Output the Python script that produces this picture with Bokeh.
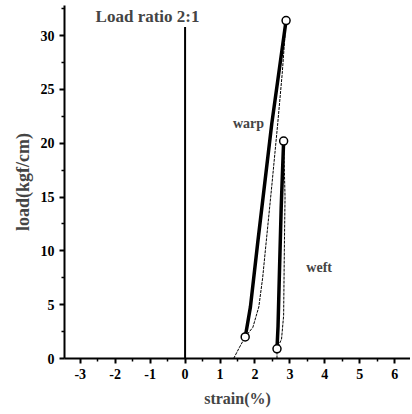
from bokeh.plotting import figure
from bokeh.models import Range1d, FixedTicker, Label
from bokeh.embed import file_html
from bokeh.resources import INLINE

# warp loading (thin) and unloading (thick) curves
warp_thin_x = [1.39, 1.55, 1.72, 1.94, 2.11, 2.22, 2.32, 2.48, 2.65, 2.78, 2.89]
warp_thin_y = [0.0, 1.0, 2.0, 2.9, 4.8, 7.5, 10.8, 16.0, 21.8, 26.5, 31.4]
warp_thick_x = [1.72, 1.77, 1.87, 2.08, 2.48, 2.89]
warp_thick_y = [2.0, 2.9, 4.8, 10.8, 21.8, 31.4]
# weft curves
weft_thin_x = [2.63, 2.63, 2.76, 2.82, 2.84, 2.86, 2.82]
weft_thin_y = [0.0, 0.9, 1.8, 4.0, 10.0, 15.0, 20.2]
weft_thick_x = [2.63, 2.66, 2.7, 2.75, 2.82]
weft_thick_y = [0.9, 3.0, 8.0, 14.0, 20.2]
# markers
mark_x = [1.72, 2.89, 2.63, 2.82]
mark_y = [2.0, 31.4, 0.9, 20.2]
# vertical reference line at zero strain
zero_x = [0.0, 0.0]
zero_y = [0.0, 30.8]

x_ticks = [-3, -2, -1, 0, 1, 2, 3, 4, 5, 6]
x_tick_labels = ["-3", "-2", "-1", "0", "1", "2", "3", "4", "5", "6"]
y_ticks = [0, 5, 10, 15, 20, 25, 30]

font = "Liberation Serif"

p = figure(width=410, height=413, output_backend="svg", toolbar_location=None,
           x_range=Range1d(-3.45, 6.45), y_range=Range1d(0, 32.8),
           min_border_left=64, min_border_right=0, min_border_top=5, min_border_bottom=55)
p.outline_line_color = None
p.grid.visible = False
p.background_fill_color = "white"

p.line(zero_x, zero_y, line_color="black", line_width=2)
p.line(warp_thin_x, warp_thin_y, line_color="black", line_width=1, line_dash="3 1")
p.line(warp_thick_x, warp_thick_y, line_color="black", line_width=3.5)
p.line(weft_thin_x, weft_thin_y, line_color="black", line_width=1, line_dash="3 1")
p.line(weft_thick_x, weft_thick_y, line_color="black", line_width=3.5)
p.scatter(mark_x, mark_y, marker="circle", size=8, fill_color="white",
          line_color="black", line_width=1.5)

for ax in (p.xaxis, p.yaxis):
    ax.major_label_text_font = font
    ax.major_label_text_font_style = "bold"
    ax.major_label_text_font_size = "14px"
    ax.major_label_text_color = "black"
    ax.axis_label_text_font = font
    ax.axis_label_text_font_style = "bold"
    ax.axis_line_width = 2
    ax.major_tick_line_width = 2
    ax.minor_tick_line_width = 1.5
    ax.major_tick_out = 5
    ax.major_tick_in = 0
    ax.minor_tick_out = 3
    ax.minor_tick_in = 0

p.xaxis.axis_label_text_font_size = "16px"
p.yaxis.axis_label_text_font_size = "18px"
p.xaxis.axis_label_standoff = 8
p.xaxis.ticker = FixedTicker(ticks=x_ticks, minor_ticks=[v + 0.5 for v in range(-4, 7)])
p.xaxis.major_label_overrides = {t: s for t, s in zip(x_ticks, x_tick_labels)}
p.yaxis.ticker = FixedTicker(ticks=y_ticks, minor_ticks=[v + 2.5 for v in range(0, 32, 5)])
p.xaxis.axis_label = "strain(%)"
p.yaxis.axis_label = "load(kgf/cm)"

p.add_layout(Label(x=-2.56, y=31.75, text="Load ratio 2:1", text_font=font,
                   text_font_style="bold", text_font_size="17px", text_baseline="middle"))
p.add_layout(Label(x=1.37, y=21.8, text="warp", text_font=font,
                   text_font_style="bold", text_font_size="14px", text_baseline="middle"))
p.add_layout(Label(x=3.47, y=8.5, text="weft", text_font=font,
                   text_font_style="bold", text_font_size="14px", text_baseline="middle"))

open("out.html", "w").write(file_html(p, INLINE))
